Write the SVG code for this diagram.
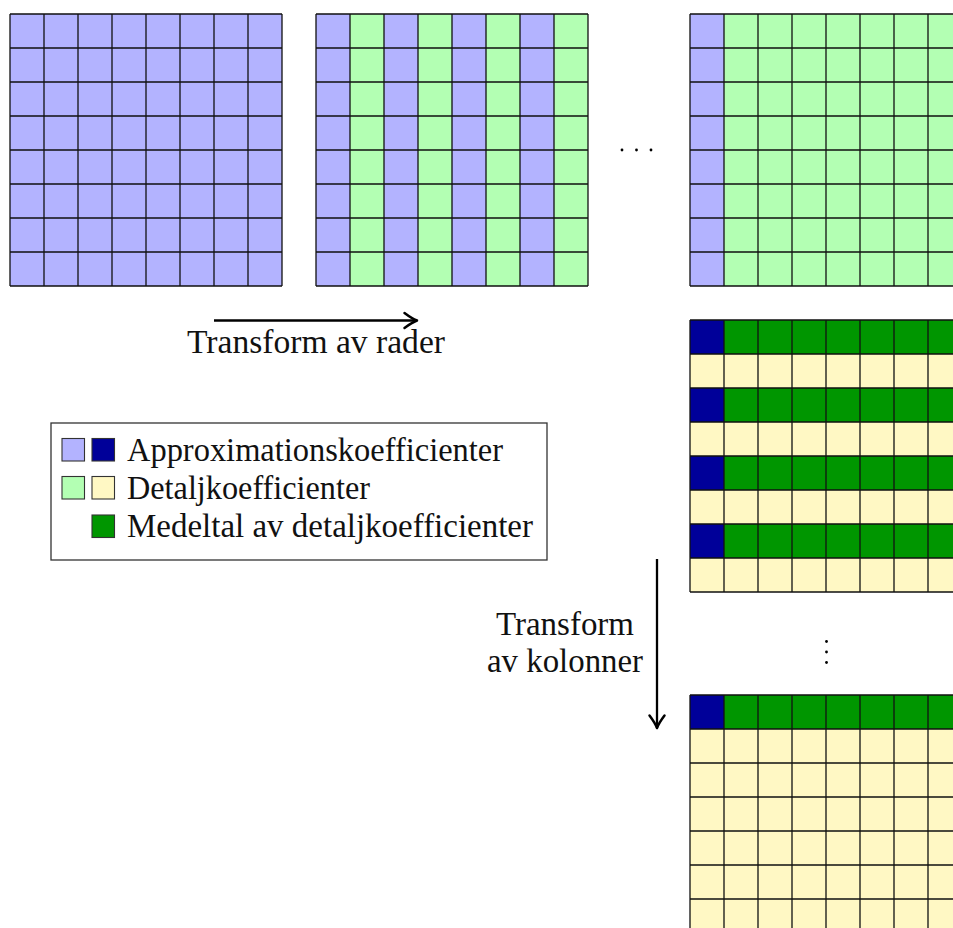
<svg xmlns="http://www.w3.org/2000/svg" xmlns:xlink="http://www.w3.org/1999/xlink" width="953" height="928" viewBox="0 0 953 928">
<style>
  .lb{fill:#B3B3FF}
  .lg{fill:#B3FFB3}
  .db{fill:#000099}
  .dg{fill:#009600}
  .ly{fill:#FFF8C4}
  .gl{fill:none;stroke:#111;stroke-width:1.3}
  .sw{stroke:#333;stroke-width:1.1}
  .t{font-family:"Liberation Serif","DejaVu Serif",serif;font-size:33px;fill:#111}
  .arr{stroke:#000;stroke-width:2.3;fill:none}
  .dot{fill:#000}
</style>
<defs>
  <path id="grid" class="gl" d="M0 0H272M0 34H272M0 68H272M0 102H272M0 136H272M0 170H272M0 204H272M0 238H272M0 272H272M0 0V272M34 0V272M68 0V272M102 0V272M136 0V272M170 0V272M204 0V272M238 0V272M272 0V272"/>
  <marker id="ah" markerUnits="userSpaceOnUse" markerWidth="20" markerHeight="20" refX="0" refY="0" viewBox="-12 -8 14 16" orient="auto" overflow="visible">
    <path d="M-10,-6 Q-4,-1.5 0,0 Q-4,1.5 -10,6" fill="none" stroke="#000" stroke-width="2" stroke-linecap="round" stroke-linejoin="round"/>
  </marker>
</defs>
<rect width="953" height="928" fill="#fff"/>

<g id="grid-original">
  <rect class="lb" x="10" y="14" width="272" height="272"/>
  <use xlink:href="#grid" x="10" y="14"/>
</g>

<g id="grid-rows-step1">
  <rect class="lb" x="316" y="14" width="272" height="272"/>
  <rect class="lg" x="350" y="14" width="34" height="272"/>
  <rect class="lg" x="418" y="14" width="34" height="272"/>
  <rect class="lg" x="486" y="14" width="34" height="272"/>
  <rect class="lg" x="554" y="14" width="34" height="272"/>
  <use xlink:href="#grid" x="316" y="14"/>
</g>

<g id="hdots">
  <circle class="dot" cx="622" cy="150" r="1.4"/>
  <circle class="dot" cx="636.5" cy="150" r="1.4"/>
  <circle class="dot" cx="651" cy="150" r="1.4"/>
</g>

<g id="grid-rows-final">
  <rect class="lg" x="690" y="14" width="272" height="272"/>
  <rect class="lb" x="690" y="14" width="34" height="272"/>
  <use xlink:href="#grid" x="690" y="14"/>
</g>

<g id="grid-cols-step1">
  <rect class="ly" x="690" y="320" width="272" height="272"/>
  <rect class="dg" x="690" y="320" width="272" height="34"/>
  <rect class="dg" x="690" y="388" width="272" height="34"/>
  <rect class="dg" x="690" y="456" width="272" height="34"/>
  <rect class="dg" x="690" y="524" width="272" height="34"/>
  <rect class="db" x="690" y="320" width="34" height="34"/>
  <rect class="db" x="690" y="388" width="34" height="34"/>
  <rect class="db" x="690" y="456" width="34" height="34"/>
  <rect class="db" x="690" y="524" width="34" height="34"/>
  <use xlink:href="#grid" x="690" y="320"/>
</g>

<g id="vdots">
  <circle class="dot" cx="826.5" cy="641.5" r="1.4"/>
  <circle class="dot" cx="826.5" cy="652" r="1.4"/>
  <circle class="dot" cx="826.5" cy="662.5" r="1.4"/>
</g>

<g id="grid-cols-final">
  <rect class="ly" x="690" y="695" width="272" height="272"/>
  <rect class="dg" x="690" y="695" width="272" height="34"/>
  <rect class="db" x="690" y="695" width="34" height="34"/>
  <use xlink:href="#grid" x="690" y="695"/>
</g>

<g id="connectors">
  <line class="arr" x1="214" y1="320.5" x2="417" y2="320.5" marker-end="url(#ah)"/>
  <line class="arr" x1="657" y1="559" x2="657" y2="728" marker-end="url(#ah)"/>
</g>

<g id="label-rows">
  <text class="t" x="316" y="353" text-anchor="middle" textLength="258" lengthAdjust="spacingAndGlyphs">Transform av rader</text>
</g>

<g id="label-cols">
  <text class="t" x="565" y="635" text-anchor="middle" textLength="138" lengthAdjust="spacingAndGlyphs">Transform</text>
  <text class="t" x="565" y="672" text-anchor="middle" textLength="156" lengthAdjust="spacingAndGlyphs">av kolonner</text>
</g>

<g id="legend">
  <rect x="51" y="423" width="496" height="137" fill="#fff" stroke="#333" stroke-width="1.3"/>
  <rect class="lb sw" x="62" y="438.5" width="22.5" height="22.5"/>
  <rect class="db sw" x="92" y="438.5" width="22.5" height="22.5"/>
  <text class="t" x="127" y="461" textLength="376" lengthAdjust="spacingAndGlyphs">Approximationskoefficienter</text>
  <rect class="lg sw" x="62" y="476.5" width="22.5" height="22.5"/>
  <rect class="ly sw" x="92" y="476.5" width="22.5" height="22.5"/>
  <text class="t" x="127" y="499" textLength="243" lengthAdjust="spacingAndGlyphs">Detaljkoefficienter</text>
  <rect class="dg sw" x="92" y="515" width="22.5" height="22.5"/>
  <text class="t" x="127" y="537" textLength="406" lengthAdjust="spacingAndGlyphs">Medeltal av detaljkoefficienter</text>
</g>
</svg>
